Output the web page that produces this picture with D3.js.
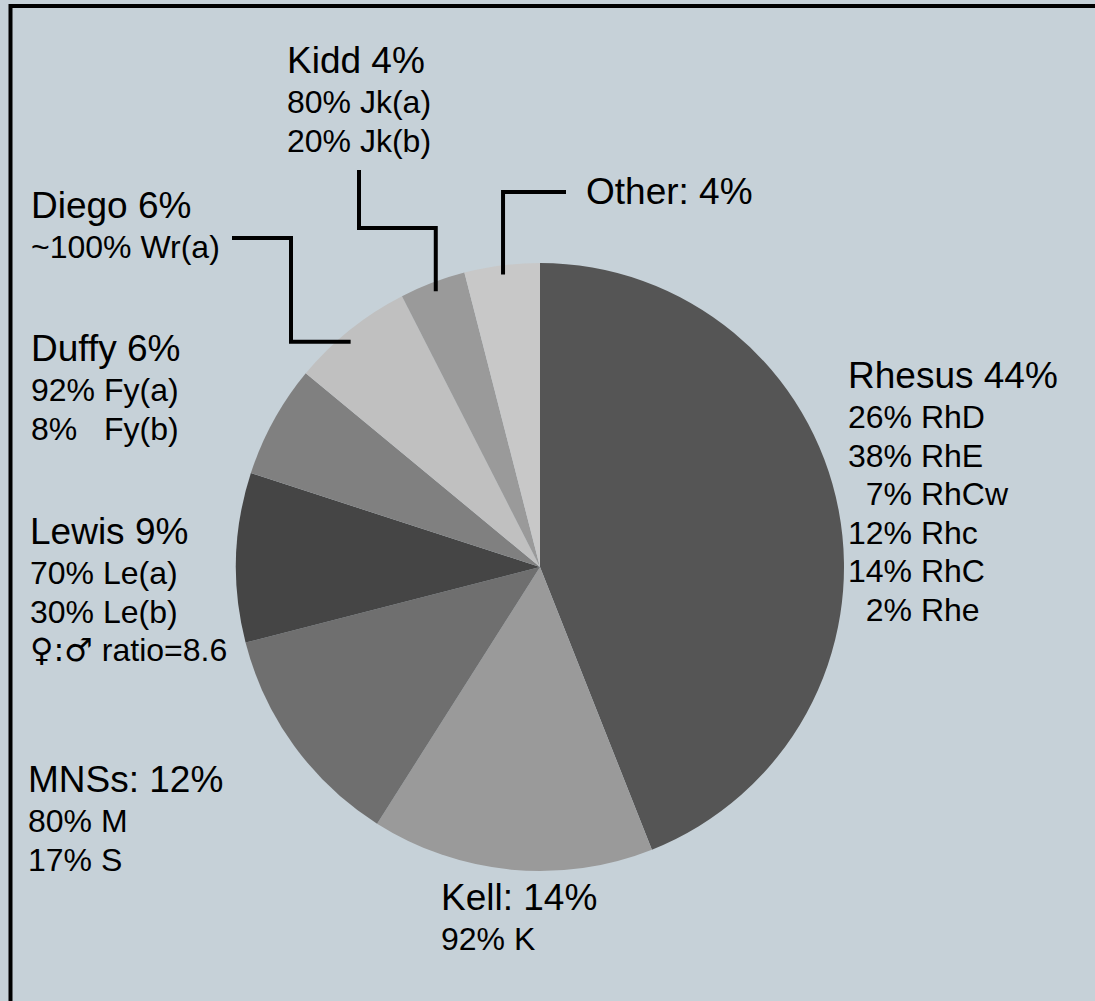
<!DOCTYPE html>
<html>
<head>
<meta charset="utf-8">
<script src="https://cdn.jsdelivr.net/npm/d3@7"></script>
<style>
  body { margin: 0; background: #c6d1d8; }
  text { font-family: "Liberation Sans", Arial, sans-serif; fill: #000; white-space: pre; }
  .sym { font-family: "DejaVu Sans", sans-serif; }
</style>
</head>
<body>
<div id="chart"></div>
<script>
// Antibody frequency by blood group system
const width = 1095;
const height = 1001;

const groups = ["Rhesus", "Kell", "MNSs", "Lewis", "Duffy", "Diego", "Kidd", "Other"];
const shares = [44, 15, 12, 9, 6, 6.5, 3.5, 4];
const titles = ["Rhesus 44%", "Kell: 14%", "MNSs: 12%", "Lewis 9%", "Duffy 6%", "Diego 6%", "Kidd 4%", "Other: 4%"];
const details = [
    ["26% RhD", "38% RhE", "  7% RhCw", "12% Rhc", "14% RhC", "  2% Rhe"],
    ["92% K"],
    ["80% M", "17% S"],
    ["70% Le(a)", "30% Le(b)", "\u2640:\u2642 ratio=8.6"],
    ["92% Fy(a)", "8%   Fy(b)"],
    ["~100% Wr(a)"],
    ["80% Jk(a)", "20% Jk(b)"],
    []
];
const fills = ["#555555", "#9a9a9a", "#6f6f6f", "#454545", "#808080", "#c0c0c0", "#9a9a9a", "#c8c8c8"];

// label placement (left x, first baseline)
const labelPos = {
    Rhesus: [848, 388], Kell: [441, 910], MNSs: [28, 792], Lewis: [30, 544],
    Duffy: [31, 361], Diego: [31, 218], Kidd: [287, 73], Other: [586, 204]
};

const svg = d3.select("#chart")
    .append("svg")
    .attr("width", width)
    .attr("height", height);

// frame (only top and left edges visible)
svg.append("rect")
    .attr("x", 10.5).attr("y", 6)
    .attr("width", 1300).attr("height", 1300)
    .attr("fill", "none")
    .attr("stroke", "#000")
    .attr("stroke-width", 4);

const cx = 540, cy = 567, r = 304;

const pie = d3.pie().sort(null).value(d => d.value);
const arc = d3.arc().innerRadius(0).outerRadius(r);
const inner = d3.arc().innerRadius(r * 0.97).outerRadius(r * 0.97);

const data = groups.map((g, i) => ({ name: g, value: shares[i], fill: fills[i] }));
const arcs = pie(data);

const g = svg.append("g").attr("transform", `translate(${cx},${cy})`);
g.selectAll("path")
    .data(arcs)
    .join("path")
    .attr("d", arc)
    .attr("fill", d => d.data.fill);

// leader lines for the small slices
function tip(name) {
    const a = arcs.find(d => d.data.name === name);
    const [x, y] = inner.centroid(a);
    return [cx + x, cy + y];
}
const line = d3.line();
const [dx, dy] = tip("Diego");
const [kx, ky] = tip("Kidd");
const [ox, oy] = tip("Other");
const leaders = [
    [[232, 238], [291, 238], [291, dy + 5], [dx - 5, dy + 5]],
    [[359, 170], [359, 228], [kx, 228], [kx, ky]],
    [[566, 192], [ox, 192], [ox, oy]]
];
svg.selectAll("path.leader")
    .data(leaders)
    .join("path")
    .attr("class", "leader")
    .attr("d", line)
    .attr("fill", "none")
    .attr("stroke", "#000")
    .attr("stroke-width", 4);

// labels
groups.forEach((name, i) => {
    const [x, y] = labelPos[name];
    const t = svg.append("text").attr("x", x).attr("y", y);
    t.append("tspan").attr("x", x).attr("font-size", 37).text(titles[i]);
    details[i].forEach((s, j) => {
        const ts = t.append("tspan")
            .attr("x", x)
            .attr("y", y + 40 + j * 38.5)
            .attr("font-size", 32);
        // gender symbols drawn with a font that has them
        const m = s.match(/^([\u2640\u2642:]+)(.*)$/);
        if (m) {
            ts.append("tspan").attr("class", "sym").text(m[1]);
            ts.append("tspan").text(m[2]);
        } else {
            ts.text(s);
        }
    });
});
</script>
</body>
</html>
